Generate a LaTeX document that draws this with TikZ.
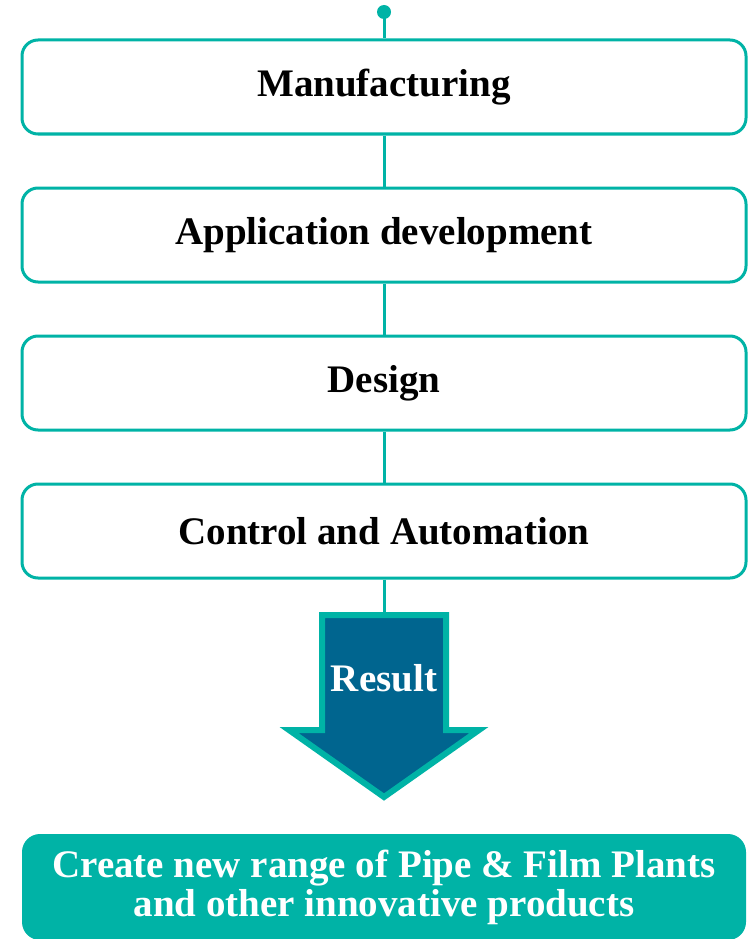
\documentclass[tikz,border=0pt]{standalone}
\usepackage{fontspec}
\setmainfont{Liberation Serif}
\usetikzlibrary{positioning}
\definecolor{stageteal}{HTML}{00B3A6}
\definecolor{resultblue}{HTML}{00658F}
\tikzset{
    stagebox/.style={draw=stageteal, line width=3pt, rounded corners=16pt, fill=white,
        minimum width=724pt, minimum height=94pt, inner sep=0pt,
        font=\fontsize{39}{40}\selectfont\bfseries},
    link/.style={stageteal, line width=3pt}
}

\begin{document}
\begin{tikzpicture}[x=1pt,y=1pt]
    % Canvas
    \useasboundingbox (0,0) rectangle (749,-939);
    % Start point
    \coordinate (start) at (384,-12);
    \coordinate (arrowtop) at (384,-612);
    %%%
    %%% Stages
    %%%
    \node[stagebox] (manuf) at (384,-87) {Manufacturing};
    \node[stagebox, below=51pt of manuf] (appdev) {Application development};
    \node[stagebox, below=51pt of appdev] (design) {Design};
    \node[stagebox, below=51pt of design] (control) {Control and Automation};
    % Links
    \draw[link] (start) -- (manuf.north);
    \draw[link] (manuf.south) -- (appdev.north);
    \draw[link] (appdev.south) -- (design.north);
    \draw[link] (design.south) -- (control.north);
    \draw[link] (control.south) -- (arrowtop);
    \fill[stageteal] (start) circle (7pt);
    %%%
    %%% Result arrow
    %%%
    \draw[stageteal, line width=6pt, fill=resultblue, line join=miter]
        (322,-615) -- (446,-615) -- (446,-730) -- (479,-730) -- (384,-797)
        -- (289,-730) -- (322,-730) -- cycle;
    \node[text=white, font=\fontsize{39}{40}\selectfont\bfseries] (result) at (384,-678) {Result};
    % Goal
    \node[fill=stageteal, rounded corners=18pt, minimum width=724pt, minimum height=106pt,
        text=white, align=center, font=\fontsize{39}{39}\selectfont\bfseries]
        (goal) at (384,-887) {Create new range of Pipe \& Film Plants\\and other innovative products};
\end{tikzpicture}
\end{document}
